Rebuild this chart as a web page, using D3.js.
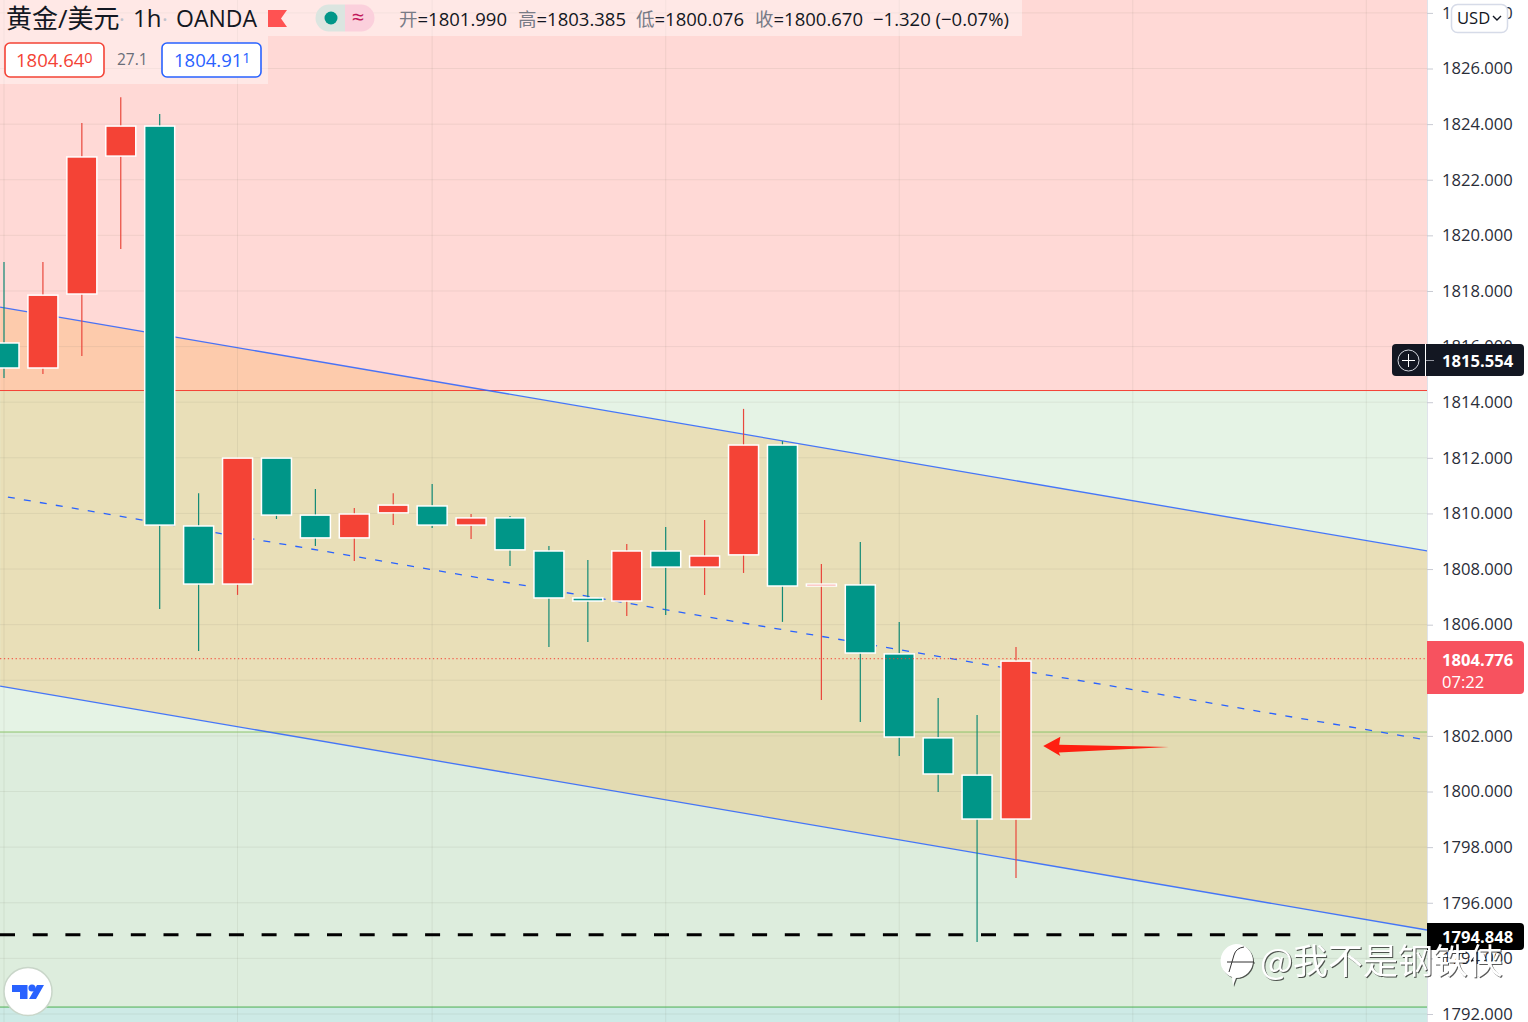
<!DOCTYPE html>
<html><head><meta charset="utf-8">
<script src="https://cdn.jsdelivr.net/npm/d3@7/dist/d3.min.js"></script>
<style>html,body{margin:0;padding:0;background:#fff;overflow:hidden}svg{display:block}
text{font-family:"Open Sans","Noto Sans","Noto Sans CJK SC",sans-serif}</style></head><body>
<svg id="c" width="1528" height="1022"></svg>
<script>
const opens =[1816.13,1815.23,1817.89,1822.85,1823.93,1809.55,1807.46,1811.99,1809.94,1809.12,1810.02,1810.27,1809.58,1809.84,1808.65,1806.96,1806.85,1808.65,1808.07,1808.51,1812.46,1807.39,1807.43,1804.95,1801.93,1800.59,1799.01];
const closes=[1815.23,1817.85,1822.82,1823.93,1809.58,1807.46,1811.99,1809.94,1809.12,1809.98,1810.30,1809.58,1809.84,1808.69,1806.96,1806.85,1808.65,1808.07,1808.47,1812.46,1807.39,1807.46,1804.98,1801.96,1800.63,1799.01,1804.69];
const highs =[1819.04,1819.04,1824.04,1824.97,1824.36,1810.73,1811.99,1811.99,1810.88,1810.20,1810.73,1811.06,1809.98,1809.91,1808.83,1808.33,1808.90,1809.51,1809.76,1813.76,1812.60,1808.18,1808.97,1806.10,1803.36,1802.75,1805.20];
const lows  =[1814.87,1815.01,1815.66,1819.51,1806.56,1805.05,1807.07,1809.80,1808.83,1808.29,1809.58,1809.48,1809.08,1808.11,1805.20,1805.38,1806.31,1806.35,1807.07,1807.86,1806.10,1803.29,1802.50,1801.28,1799.98,1794.59,1796.89];
const priceTicks=[1792,1794,1796,1798,1800,1802,1804,1806,1808,1810,1812,1814,1816,1818,1820,1822,1824,1826,1828];
const gridBars=[0,6,11,17,23,29,35];
const upperLine=[[-0.1,1817.42],[36.56,1808.65]];
const midLine=[[0.1,1810.59],[36.56,1801.85]];
const lowerLine=[[-0.1,1803.79],[36.56,1795.02]];
const levelTop=1814.42, levelMid=1802.14, levelLow=1792.25, lastPrice=1804.776, stopPrice=1794.848, crossPrice=1815.554;
const arrowPts=[[26.70,1801.64],[27.14,1801.97],[27.11,1801.68],[29.93,1801.60],[27.10,1801.40],[27.14,1801.28]];

const W=1528,H=1022,PR=1427;
const svg=d3.select('#c');
const x=d3.scaleLinear().domain([0,26]).range([4,1016]);
const y=d3.scaleLinear().domain([1826,1792]).range([68.5,1014]);
const defs=svg.append('defs');
defs.append('clipPath').attr('id','pane').append('rect').attr('width',PR).attr('height',H);
const pane=svg.append('g').attr('clip-path','url(#pane)');
const line=d3.line().x(d=>x(d[0])).y(d=>y(d[1]));

// zones
const zone=(a,b,f)=>pane.append('rect').attr('x',0).attr('width',PR).attr('y',a).attr('height',b-a).attr('fill',f);
zone(0,y(levelTop),'#ffd9d6');
zone(y(levelTop),y(levelLow),'#e5f3e5');
zone(y(levelMid),y(levelLow),'rgba(40,110,40,.045)');
zone(y(levelLow),H,'#cdeae6');
// channel fill
const poly=[[upperLine[0][0],upperLine[0][1]],[upperLine[1][0],upperLine[1][1]],[lowerLine[1][0],lowerLine[1][1]],[lowerLine[0][0],lowerLine[0][1]]];
pane.append('path').attr('d',line(poly)+'Z').attr('fill','rgba(246,160,33,.23)');
// grid
pane.append('g').selectAll('line').data(priceTicks).join('line').attr('x1',0).attr('x2',PR).attr('y1',d=>y(d)+.0).attr('y2',d=>y(d)).attr('stroke','rgba(120,120,100,.11)');
pane.append('g').selectAll('line').data(gridBars).join('line').attr('x1',d=>x(d)).attr('x2',d=>x(d)).attr('y1',0).attr('y2',H).attr('stroke','rgba(120,120,100,.11)');
// levels
const hl=(p,c,w,da)=>pane.append('line').attr('x1',0).attr('x2',PR).attr('y1',y(p)).attr('y2',y(p)).attr('stroke',c).attr('stroke-width',w).attr('stroke-dasharray',da||null);
hl(levelTop,'#f44336',1);
hl(levelMid,'#8bc46a',1);
hl(levelLow,'#4caf50',1);
// channel lines
[upperLine,lowerLine].forEach(l=>pane.append('path').attr('d',line(l)).attr('fill','none').attr('stroke','#2962ff').attr('stroke-opacity',.85).attr('stroke-width',1.3));
pane.append('path').attr('d',line(midLine)).attr('fill','none').attr('stroke','#2962ff').attr('stroke-width',1.3).attr('stroke-dasharray','7 9.2');
hl(stopPrice,'#000',3,'15 17.7');
// candles
const idx=d3.range(opens.length);
const col=i=>closes[i]>=opens[i]?'#f44336':'#009688';
const bw=30;
const cg=pane.append('g');
cg.selectAll('line').data(idx).join('line').attr('x1',i=>x(i)).attr('x2',i=>x(i)).attr('y1',i=>y(highs[i])).attr('y2',i=>y(lows[i])).attr('stroke',i=>closes[i]>=opens[i]?'#e9473c':'#128a76').attr('stroke-width',1.2);
cg.selectAll('rect').data(idx).join('rect').attr('x',i=>x(i)-bw/2).attr('width',bw).attr('y',i=>y(Math.max(opens[i],closes[i]))).attr('height',i=>Math.abs(y(opens[i])-y(closes[i]))).attr('fill',col).attr('stroke','#fff').attr('stroke-width',1.5);
hl(lastPrice,'#f44336',1,'1.3 2.6');
// arrow
pane.append('path').attr('d',line(arrowPts)+'Z').attr('fill','#ff1f10');

// axis
const ax=d3.axisRight(y).tickValues(priceTicks).tickSize(6).tickPadding(9).tickFormat(d3.format('.3f'));
const ag=svg.append('g').attr('transform',`translate(${PR},0)`).call(ax);
ag.select('.domain').attr('stroke','#e0e3eb').attr('d',`M0.5,0V${H}`);
ag.selectAll('.tick line').attr('stroke','#c8cad2');
ag.selectAll('.tick text').attr('font-size',16.6).attr('fill','#2a2e39').style('font-family','"Open Sans"');

function priceLabel(p,x0,x1,y0,y1,fill){
  const r=4;
  svg.append('path').attr('d',`M${x0},${y0}H${x1-r}Q${x1},${y0} ${x1},${y0+r}V${y1-r}Q${x1},${y1} ${x1-r},${y1}H${x0}Z`).attr('fill',fill);
}
// red last price label
priceLabel(lastPrice,PR,1524,641,694,'#f7525f');
svg.append('text').attr('x',1442).attr('y',666).attr('font-size',16.6).attr('font-weight',700).attr('fill','#fff').text(d3.format('.3f')(lastPrice));
svg.append('text').attr('x',1442).attr('y',688).attr('font-size',16.6).attr('fill','#fff').text('07:22');
// cross label
svg.append('path').attr('d','M1396,344H1520Q1524,344 1524,348V372Q1524,376 1520,376H1396Q1392,376 1392,372V348Q1392,344 1396,344Z').attr('fill','#131722');
svg.append('line').attr('x1',1425.5).attr('x2',1425.5).attr('y1',344).attr('y2',376).attr('stroke','#fff');
svg.append('line').attr('x1',1426).attr('x2',1434).attr('y1',360.5).attr('y2',360.5).attr('stroke','#9598a1');
svg.append('circle').attr('cx',1408.5).attr('cy',360.5).attr('r',10.5).attr('fill','none').attr('stroke','#d1d4dc');
svg.append('path').attr('d','M1402,360.5H1415M1408.5,354V367').attr('stroke','#fff').attr('fill','none');
svg.append('text').attr('x',1442).attr('y',366.5).attr('font-size',16.6).attr('font-weight',700).attr('fill','#fff').text(d3.format('.3f')(crossPrice));
// stop label
priceLabel(stopPrice,PR,1524,923,950,'#000');
svg.append('text').attr('x',1442).attr('y',943).attr('font-size',16.6).attr('font-weight',700).attr('fill','#fff').text(d3.format('.3f')(stopPrice));
// USD button
svg.append('rect').attr('x',1451.5).attr('y',4.5).attr('width',56).attr('height',28).attr('rx',6).attr('fill','#fff').attr('stroke','#d6dbe8').attr('stroke-width',1.5);
svg.append('text').attr('x',1457).attr('y',24).attr('font-size',16.6).attr('fill','#131722').text('USD');
svg.append('path').attr('d','M1493,16L1497,20L1501,16').attr('fill','none').attr('stroke','#131722').attr('stroke-width',1.4);

// header panels
svg.append('rect').attr('x',0).attr('y',0).attr('width',1022).attr('height',36).attr('fill','rgba(255,255,255,.4)');
svg.append('rect').attr('x',0).attr('y',36).attr('width',268).attr('height',48).attr('fill','rgba(255,255,255,.4)');
const T=(s,xx,yy,fs,f,o)=>{const t=svg.append('text').attr('x',xx).attr('y',yy).attr('font-size',fs).attr('fill',f).text(s);if(o)t.attr('text-anchor',o);return t;};
const dark='#131722',gray='#787b86';
T('黄金/美元',6,28,26,dark);
T('·',119,27,22,'#c0c3cc');
T('1h',133,27,24,dark);
T('·',162,27,22,'#c0c3cc');
T('OANDA',176,27,23,dark);
svg.append('path').attr('d','M268,10H287L281,18.5L287,27H268Z').attr('fill','#ff5252');
svg.append('path').attr('d','M345,4.5H329A13.5,13.5 0 0 0 329,31.5H345Z').attr('fill','#dbe5e0');
svg.append('path').attr('d','M345,4.5H361A13.5,13.5 0 0 1 361,31.5H345Z').attr('fill','#fbd0dc');
svg.append('circle').attr('cx',331).attr('cy',18).attr('r',6.5).attr('fill','#009688');
T('≈',358,25,22,'#c2185b','middle');
const ohlc=[['开=',399,'1801.990'],['高=',518,'1803.385'],['低=',636,'1800.076'],['收=',755,'1800.670']];
const fs2=18.5;
ohlc.forEach(d=>{
  const t=T('',d[1],26,fs2,dark);
  t.append('tspan').attr('fill',gray).text(d[0][0]);
  t.append('tspan').attr('fill',dark).text(d[0][1]+d[2]);
});
T('−1.320 (−0.07%)',873,26,fs2,dark);
// bid/ask
svg.append('rect').attr('x',5).attr('y',43).attr('width',99).attr('height',34).attr('rx',5).attr('fill','#fff').attr('stroke','#f44336').attr('stroke-width',1.6);
const a1=T('1804.64',16,67,18.5,'#f44336');a1.append('tspan').attr('font-size',14.5).attr('dy',-4).text('0');
T('27.1',117,65,15.5,'#6a6d78');
svg.append('rect').attr('x',162).attr('y',43).attr('width',99).attr('height',34).attr('rx',5).attr('fill','#fff').attr('stroke','#2962ff').attr('stroke-width',1.6);
const a2=T('1804.91',174,67,18.5,'#2962ff');a2.append('tspan').attr('font-size',14.5).attr('dy',-4).text('1');

// TV logo
svg.append('circle').attr('cx',28).attr('cy',991.5).attr('r',24).attr('fill','#fff').attr('stroke','#c9d6c9').attr('stroke-width',1.5);
svg.append('path').attr('d','M12,985H27.5V999H20V992H12Z M37,985H44L36,999H29Z').attr('fill','#2962ff');
svg.append('circle').attr('cx',32).attr('cy',988).attr('r',3.6).attr('fill','#2962ff');

// watermark
const wm=svg.append('g').style('filter','drop-shadow(1px 1px 0.6px rgba(0,0,0,.65))');
wm.append('path').attr('d','M1236,944A17,17 0 0 1 1236,978L1233,986L1232,977A17,17 0 0 1 1236,944Z').attr('fill','#fff');
wm.append('path').attr('d','M1227,962H1254M1229,972L1234,955Q1236,948 1244,947').attr('stroke','#333').attr('stroke-width',1).attr('fill','none');
wm.append('text').attr('x',1260).attr('y',974).attr('font-size',35).attr('fill','#fff').style('font-family','"Noto Sans CJK SC"').text('@我不是钢铁侠');
</script></body></html>
